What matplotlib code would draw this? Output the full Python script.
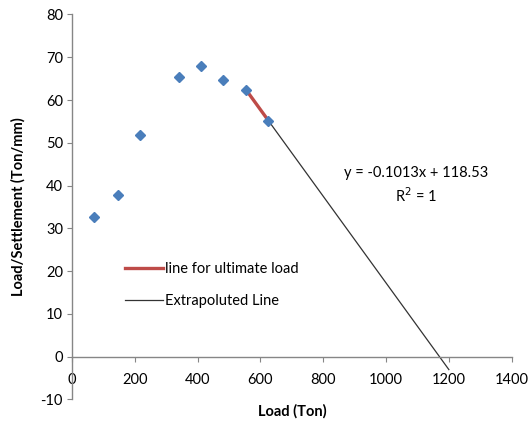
import numpy as np
import matplotlib.pyplot as plt

# measured points (Load vs Load/Settlement)
load = [70, 145, 215, 340, 410, 480, 555, 625]
ratio = [32.6, 37.7, 51.8, 65.5, 67.9, 64.7, 62.3, 55.2]

# linear fit of last two points
slope = -0.1013
intercept = 118.53
ult_x = [555, 625]
extra_x = [555, 1200]

x_ticks = [0, 200, 400, 600, 800, 1000, 1200, 1400]
y_ticks = [-10, 0, 10, 20, 30, 40, 50, 60, 70, 80]

plt.rcParams['font.family'] = ['Lato', 'DejaVu Sans']
plt.rcParams['axes.unicode_minus'] = False

fig = plt.figure(figsize=(5.31, 4.26), dpi=100)
ax = fig.add_axes([0.1356, 0.0624, 0.8280, 0.9036])

ax.plot(load, ratio, linestyle='none', marker='D', markersize=5.5,
        color='#4a7ebb', zorder=3)

ax.plot(ult_x, [slope * v + intercept for v in ult_x], color='#be4b48',
        linewidth=2.4, label='line for ultimate load', zorder=2)
ax.plot(extra_x, [slope * v + intercept for v in extra_x], color='#333333',
        linewidth=0.9, label='Extrapoluted Line', zorder=1)

ax.set_xlim(0, 1400)
ax.set_ylim(-10, 80)
ax.set_xticks(x_ticks)
ax.set_yticks(y_ticks)

for side in ['top', 'right']:
    ax.spines[side].set_visible(False)
ax.spines['bottom'].set_position(('data', 0))
for side in ['left', 'bottom']:
    ax.spines[side].set_color('#868686')
    ax.spines[side].set_linewidth(1.0)

ax.tick_params(axis='both', direction='out', length=3.5, color='#868686',
               labelsize=10.5, labelcolor='#000000')
ax.tick_params(axis='x', pad=8)
ax.tick_params(axis='y', pad=3)

ax.set_xlabel('Load (Ton)', fontsize=10.5, fontweight='bold')
ax.xaxis.set_label_coords(0.5, -0.012)
ax.set_ylabel('Load/Settlement (Ton/mm)', fontsize=10.5, fontweight='bold')
ax.yaxis.set_label_coords(-0.106, 0.5)

ax.text(1095, 40.0, 'y = -0.1013x + 118.53\nR$^2$ = 1', fontsize=10.5,
        ha='center', va='center', linespacing=1.35)

ax.legend(loc='upper left', bbox_to_anchor=(0.108, 0.372), frameon=False,
          fontsize=10.5, handlelength=2.6, handletextpad=0.1,
          labelspacing=1.25, borderaxespad=0)

fig.savefig('out.png', dpi=100)
